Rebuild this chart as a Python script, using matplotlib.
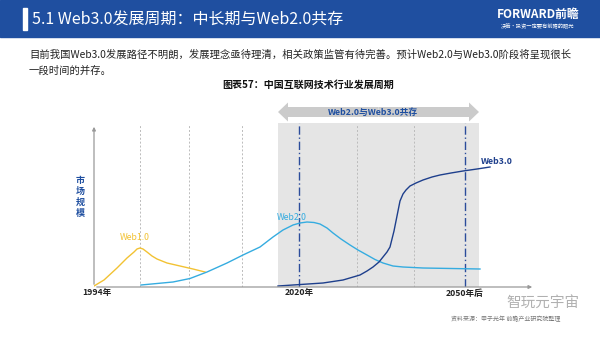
import matplotlib
matplotlib.use('Agg')
import matplotlib.pyplot as plt
from matplotlib.patches import Rectangle, FancyArrow

plt.rcParams['font.family'] = ['Noto Sans CJK SC', 'DejaVu Sans']

# 数据（任意单位，从图上读取）
web1_x = [0, 10, 23, 33, 40, 43, 46, 49, 53, 58, 63, 73, 86, 99, 111]
web1_y = [1, 7, 19, 29, 35, 38, 39, 38, 35, 31, 28, 24, 21, 18, 15]

web2_x = [47, 63, 79, 96, 113, 133, 149, 166, 179, 189, 199, 206, 213, 220, 226, 233, 239,
          247, 256, 264, 273, 281, 289, 299, 309, 329, 386]
web2_y = [2, 3.5, 5, 8.5, 15, 24, 32, 40, 50, 57, 62, 64, 65, 64.5, 63, 59, 54,
          48, 42, 37, 32, 27.5, 24, 21, 20, 19, 18]

web3_x = [184, 229, 249, 266, 273, 279, 285, 289, 293, 296, 298, 300, 302, 304, 306, 309,
          312, 316, 322, 329, 338, 346, 357, 369, 383, 396]
web3_y = [1, 4, 7, 12, 16, 20, 25, 30, 35, 40, 48, 56, 66, 76, 86, 93,
          97, 101, 104, 107, 110, 112, 114, 116, 118, 120]

grid_x = [46, 95, 148, 263, 320]
era_x = [205, 371]
era_labels = ['2020年', '2050年后']
start_label = '1994年'
coexist = (184, 385)

blue = '#1f4fa0'
c1 = '#f2c233'
c2 = '#35ace0'
c3 = '#1e3f8c'

fig = plt.figure(figsize=(6, 3.37), dpi=100)

# 页面背景与文字
bg = fig.add_axes([0, 0, 1, 1])
bg.set_xlim(0, 600)
bg.set_ylim(337, 0)
bg.axis('off')
bg.add_patch(Rectangle((0, 0), 600, 37, color=blue))
bg.add_patch(Rectangle((23, 8), 4, 22, color='white'))
bg.text(32, 20, '5.1 Web3.0发展周期：中长期与Web2.0共存', color='white',
        fontsize=11.5, va='center', ha='left')
bg.text(538, 14, 'FORWARD前瞻', color='white', fontsize=8.5, fontweight='bold',
        va='center', ha='center')
bg.text(538, 26, '决策·投资一定要有前瞻的眼光', color='white', fontsize=3.8,
        va='center', ha='center')
bg.text(29, 55, '目前我国Web3.0发展路径不明朗，发展理念亟待理清，相关政策监管有待完善。预计Web2.0与Web3.0阶段将呈现很长',
        fontsize=7.45, va='center', ha='left', color='#222222')
bg.text(29, 71, '一段时间的并存。', fontsize=7.45, va='center', ha='left', color='#222222')
bg.text(308, 85, '图表57：中国互联网技术行业发展周期', fontsize=7.2, fontweight='bold',
        va='center', ha='center', color='#111111')
for i, ch in enumerate('市场规模'):
    bg.text(80, 181 + i * 10.7, ch, fontsize=6.5, fontweight='bold', color=blue,
            va='center', ha='center')
bg.text(506, 319, '资料来源：甲子光年 前瞻产业研究院整理', fontsize=4.3, color='#777777',
        va='center', ha='center')
bg.text(543, 303, '智玩元宇宙', fontsize=10.5, color='#b0b0b0', va='center', ha='center')

# 图表区
ax = fig.add_axes([94 / 600, 50 / 337, 441 / 600, 187 / 337])
ax.set_xlim(0, 441)
ax.set_ylim(0, 187)
ax.axis('off')

ax.add_patch(Rectangle((coexist[0], 0), coexist[1] - coexist[0], 164, color='#e5e5e5', lw=0))
for gx in grid_x:
    ax.plot([gx, gx], [0, 162], color='#bbbbbb', lw=0.7, ls=(0, (2, 2)))
for ex in era_x:
    ax.plot([ex, ex], [0, 164], color='#2b4c9b', lw=1.0, ls=(0, (6, 2, 1, 2)))

# 坐标轴
ax.annotate('', xy=(0, 163), xytext=(0, 0),
            arrowprops=dict(arrowstyle='-|>', color='#999999', lw=0.9, mutation_scale=5))
ax.annotate('', xy=(441, 0), xytext=(0, 0),
            arrowprops=dict(arrowstyle='-|>', color='#999999', lw=0.9, mutation_scale=5))

ax.plot(web1_x, web1_y, color=c1, lw=1.0, solid_joinstyle='round')
ax.plot(web2_x, web2_y, color=c2, lw=1.0, solid_joinstyle='round')
ax.plot(web3_x, web3_y, color=c3, lw=1.0, solid_joinstyle='round')

ax.text(41, 50, 'Web1.0', color=c1, fontsize=6.3, ha='center', va='center')
ax.text(198, 70, 'Web2.0', color=c2, fontsize=6.3, ha='center', va='center')
ax.text(403, 126, 'Web3.0', color=c3, fontsize=6.3, fontweight='bold', ha='center', va='center')

ax.text(3, -6, start_label, fontsize=6.2, fontweight='bold', color='#222222',
        ha='center', va='center', clip_on=False)
for ex, lab in zip(era_x, era_labels):
    ax.text(ex, -6, lab, fontsize=6.2, fontweight='bold', color='#222222',
            ha='center', va='center', clip_on=False)

# 共存双向箭头
mid = (coexist[0] + coexist[1]) / 2
for d in (coexist[0] - mid, coexist[1] - mid):
    ax.add_patch(FancyArrow(mid, 175, d, 0, width=10, head_width=19, head_length=10,
                            length_includes_head=True, color='#cbcbcb', lw=0))
ax.text(mid - 6, 175, 'Web2.0与Web3.0共存', fontsize=6.3, fontweight='bold', color=blue,
        ha='center', va='center')

fig.savefig('out.png', dpi=100)
